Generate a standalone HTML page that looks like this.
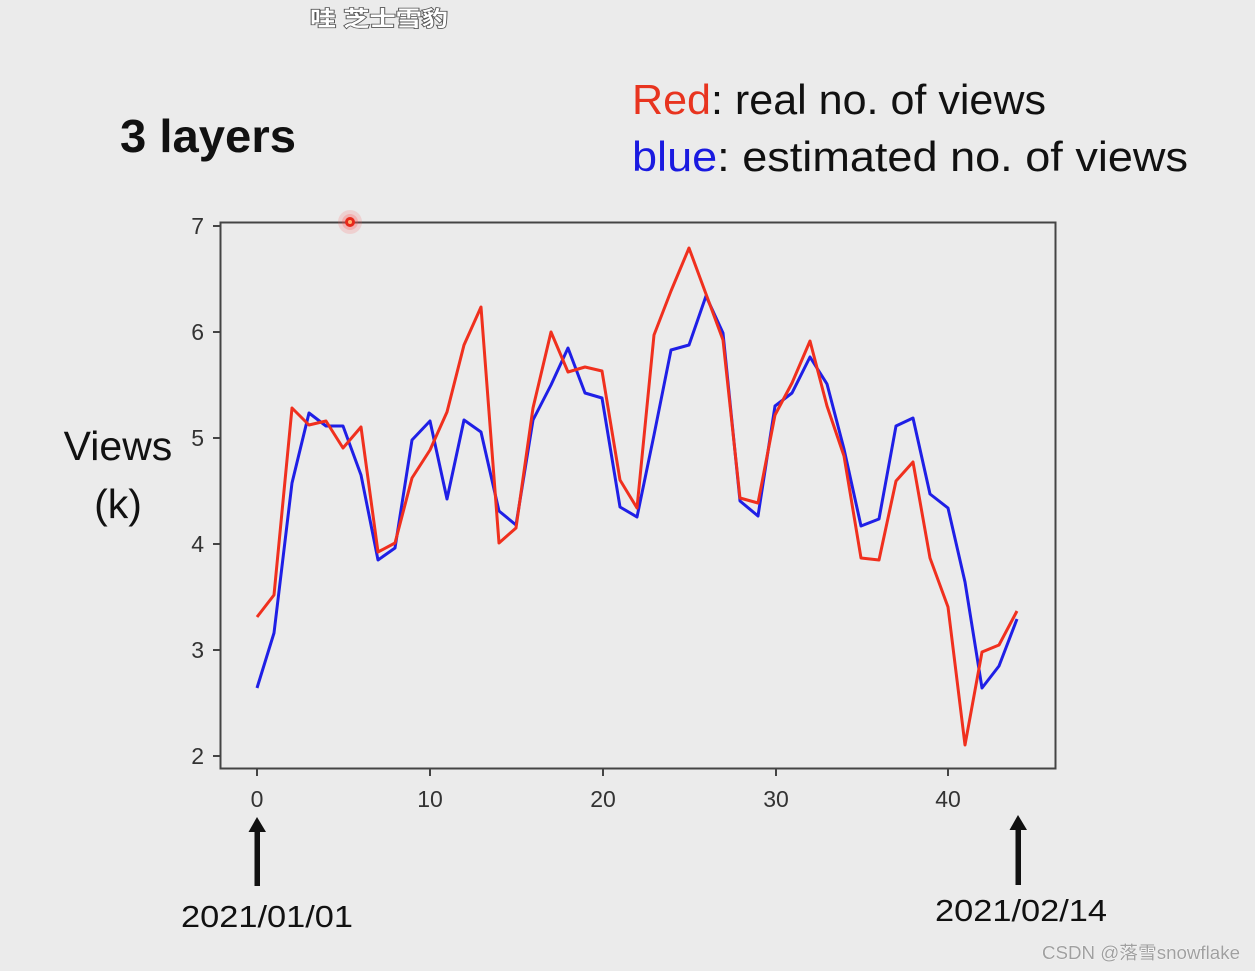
<!DOCTYPE html>
<html>
<head>
<meta charset="utf-8">
<style>
  html,body{margin:0;padding:0;background:#ebebeb;}
  svg{display:block;}
</style>
</head>
<body>
<svg width="1255" height="971" viewBox="0 0 1255 971" xmlns="http://www.w3.org/2000/svg">
  <rect x="0" y="0" width="1255" height="971" fill="#ebebeb"/>

  <!-- watermark top -->
  <text x="310" y="26" font-family="'Liberation Sans','Noto Sans CJK SC',sans-serif" font-size="21" font-weight="bold" fill="#ffffff" stroke="#555" stroke-width="1.6" paint-order="stroke" textLength="138" lengthAdjust="spacingAndGlyphs">哇 芝士雪豹</text>

  <!-- title -->
  <text x="120" y="152" font-family="'Liberation Sans',sans-serif" font-size="46" font-weight="bold" fill="#111" textLength="176" lengthAdjust="spacingAndGlyphs">3 layers</text>

  <!-- legend text -->
  <text x="632" y="114" font-family="'Liberation Sans',sans-serif" font-size="42" fill="#111" textLength="414" lengthAdjust="spacingAndGlyphs"><tspan fill="#e8341f">Red</tspan>: real no. of views</text>
  <text x="632" y="171" font-family="'Liberation Sans',sans-serif" font-size="42" fill="#111" textLength="556" lengthAdjust="spacingAndGlyphs"><tspan fill="#1a1ae0">blue</tspan>:  estimated no. of views</text>

  <!-- y label -->
  <text x="118" y="460" text-anchor="middle" font-family="'Liberation Sans',sans-serif" font-size="41" fill="#111">Views</text>
  <text x="118" y="518" text-anchor="middle" font-family="'Liberation Sans',sans-serif" font-size="41" fill="#111">(k)</text>

  <!-- axes frame -->
  <rect x="220.5" y="222.5" width="835" height="546" fill="none" stroke="#444" stroke-width="2"/>

  <!-- y ticks -->
  <g stroke="#444" stroke-width="2">
    <line x1="213" y1="226" x2="220" y2="226"/>
    <line x1="213" y1="332" x2="220" y2="332"/>
    <line x1="213" y1="438" x2="220" y2="438"/>
    <line x1="213" y1="544" x2="220" y2="544"/>
    <line x1="213" y1="650" x2="220" y2="650"/>
    <line x1="213" y1="756" x2="220" y2="756"/>
  </g>
  <g font-family="'Liberation Sans',sans-serif" font-size="23" fill="#333" text-anchor="end">
    <text x="204" y="234">7</text>
    <text x="204" y="340">6</text>
    <text x="204" y="446">5</text>
    <text x="204" y="552">4</text>
    <text x="204" y="658">3</text>
    <text x="204" y="764">2</text>
  </g>

  <!-- x ticks -->
  <g stroke="#444" stroke-width="2">
    <line x1="257" y1="769" x2="257" y2="776"/>
    <line x1="430" y1="769" x2="430" y2="776"/>
    <line x1="603" y1="769" x2="603" y2="776"/>
    <line x1="776" y1="769" x2="776" y2="776"/>
    <line x1="948" y1="769" x2="948" y2="776"/>
  </g>
  <g font-family="'Liberation Sans',sans-serif" font-size="23" fill="#333" text-anchor="middle">
    <text x="257" y="807">0</text>
    <text x="430" y="807">10</text>
    <text x="603" y="807">20</text>
    <text x="776" y="807">30</text>
    <text x="948" y="807">40</text>
  </g>

  <!-- blue series -->
  <polyline fill="none" stroke="#1f1fe6" stroke-width="3" stroke-linejoin="round" points="
    257,688 274,633 292,483 309,413 326,426 343,426 361,475 378,560 395,548 412,440
    430,421 447,499 464,420 481,432 499,511 516,525 533,420 551,385 568,348 585,393
    602,398 620,507 637,517 654,435 671,350 689,345 706,296 723,333 740,501 758,516
    775,406 792,393 810,357 827,384 844,449 861,526 879,519 896,426 913,418 930,494
    948,508 965,582 982,688 999,666 1017,619"/>

  <!-- red series -->
  <polyline fill="none" stroke="#f0301e" stroke-width="3" stroke-linejoin="round" points="
    257,617 274,595 292,408 309,425 326,421 343,448 361,427 378,552 395,543 412,478
    430,450 447,412 464,345 481,307 499,543 516,528 533,408 551,332 568,372 585,367
    602,371 620,480 637,508 654,335 671,291 689,248 706,294 723,340 740,498 758,503
    775,415 792,383 810,341 827,406 844,456 861,558 879,560 896,481 913,462 930,558
    948,607 965,745 982,652 999,645 1017,611"/>

  <!-- red cursor dot -->
  <circle cx="350" cy="222" r="12" fill="#ff5a5a" opacity="0.18"/>
  <circle cx="350" cy="222" r="8" fill="#ff4a4a" opacity="0.25"/>
  <circle cx="350" cy="222" r="5" fill="#e8281a"/>
  <circle cx="350" cy="222" r="2" fill="#ffb070"/>

  <!-- arrows -->
  <g fill="#111">
    <rect x="254.5" y="830" width="5.5" height="56"/>
    <polygon points="257,817 248.5,832 266,832"/>
    <rect x="1015.5" y="828" width="5.5" height="57"/>
    <polygon points="1018,815 1009.5,830 1027,830"/>
  </g>

  <!-- date labels -->
  <text x="181" y="927" font-family="'Liberation Sans',sans-serif" font-size="31" fill="#111" textLength="172" lengthAdjust="spacingAndGlyphs">2021/01/01</text>
  <text x="935" y="921" font-family="'Liberation Sans',sans-serif" font-size="31" fill="#111" textLength="172" lengthAdjust="spacingAndGlyphs">2021/02/14</text>

  <!-- bottom watermark -->
  <text x="1042" y="959" font-family="'Liberation Sans','Noto Sans CJK SC',sans-serif" font-size="18" fill="#a0a0a0" stroke="#ffffff" stroke-width="0.6" paint-order="stroke" textLength="198" lengthAdjust="spacingAndGlyphs">CSDN @落雪snowflake</text>
</svg>
</body>
</html>
